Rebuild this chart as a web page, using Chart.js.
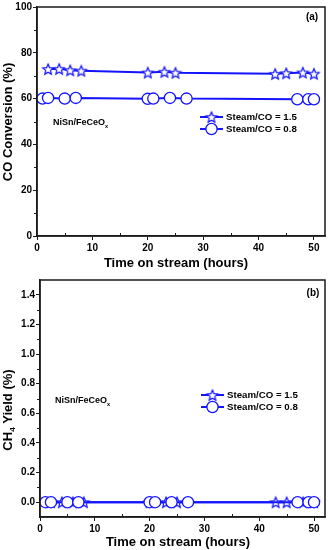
<!DOCTYPE html>
<html>
<head>
<meta charset="utf-8">
<script src="https://cdn.jsdelivr.net/npm/chart.js@4.4.1/dist/chart.umd.min.js"></script>
<style>
html, body { margin: 0; padding: 0; background: #fff; }
#wrap { position: relative; width: 328px; height: 550px; }
canvas { position: absolute; left: 0; }
</style>
</head>
<body>
<div id="wrap">
  <canvas id="chartA" width="328" height="272" style="top:0"></canvas>
  <canvas id="chartB" width="328" height="278" style="top:272px"></canvas>
</div>
<script>
// hours on stream for each series
const starHours = [2, 4, 6, 8, 20, 23, 25, 43, 45, 48, 50];
const circleHours = [1, 2, 5, 7, 20, 21, 24, 27, 47, 49, 50];

// CO conversion (%)
const coConvHigh = [72.9, 73.0, 72.4, 72.2, 71.4, 71.7, 71.3, 70.8, 71.1, 71.4, 70.9];
const coConvLow = [60.0, 60.3, 60.0, 60.3, 59.9, 60.0, 60.3, 60.0, 59.7, 59.7, 59.7];

// CH4 yield (%)
const ch4High = [0, 0, 0, 0, 0, 0, 0, 0, 0, 0, 0];
const ch4Low = [0, 0, 0, 0, 0, 0, 0, 0, 0, 0, 0];

const seriesLabels = ["Steam/CO = 1.5", "Steam/CO = 0.8"];

// tick labels
const xTicks = [0, 10, 20, 30, 40, 50];
const xMinor = [5, 15, 25, 35, 45];
const yTicksA = [0, 20, 40, 60, 80, 100];
const yMinorA = [10, 30, 50, 70, 90];
const yTicksB = [0, 0.2, 0.4, 0.6, 0.8, 1.0, 1.2, 1.4];
const yMinorB = [0.1, 0.3, 0.5, 0.7, 0.9, 1.1, 1.3];

const BLUE = "#1414ff";
const INK = "#1a1a1a";
const FONT = '"Liberation Sans", Arial, sans-serif';

// five point star marker, white inside
function makeStar(r) {
    const s = Math.ceil(r * 2 + 4);
    const c = document.createElement("canvas");
    c.width = s;
    c.height = s;
    const g = c.getContext("2d");
    const cx = s / 2, cy = s / 2 + 0.6;
    g.beginPath();
    for (let i = 0; i < 10; i++) {
        const rad = i % 2 ? r * 0.45 : r;
        const a = -Math.PI / 2 + i * Math.PI / 5;
        g.lineTo(cx + rad * Math.cos(a), cy + rad * Math.sin(a));
    }
    g.closePath();
    g.fillStyle = "#fff";
    g.fill();
    g.strokeStyle = BLUE;
    g.lineWidth = 1.2;
    g.stroke();
    return c;
}
const starImg = makeStar(5.6);

function pts(xs, ys) {
    return xs.map((x, i) => ({ x: x, y: ys[i] }));
}

// text with an optional subscript part: parts = [[text, isSub], ...]
function partsWidth(ctx, parts, size) {
    let w = 0;
    parts.forEach(p => {
        ctx.font = "bold " + (p[1] ? size * 0.62 : size) + "px " + FONT;
        w += ctx.measureText(p[0]).width;
    });
    return w;
}
function drawParts(ctx, parts, x, y, size) {
    ctx.textAlign = "left";
    ctx.textBaseline = "middle";
    parts.forEach(p => {
        ctx.font = "bold " + (p[1] ? size * 0.62 : size) + "px " + FONT;
        ctx.fillText(p[0], x, p[1] ? y + size * 0.35 : y);
        x += ctx.measureText(p[0]).width;
    });
}

function decor(cfg) {
    return {
        id: "decor",
        afterDraw(chart) {
            const ctx = chart.ctx;
            const a = chart.chartArea;
            const sx = chart.scales.x, sy = chart.scales.y;
            ctx.save();

            // box round the plot
            ctx.strokeStyle = INK;
            ctx.lineWidth = 1.5;
            ctx.strokeRect(a.left, a.top, a.right - a.left, a.bottom - a.top);

            // minor ticks
            ctx.lineWidth = 1;
            ctx.beginPath();
            xMinor.forEach(v => {
                const x = Math.round(sx.getPixelForValue(v)) + 0.5;
                ctx.moveTo(x, a.bottom);
                ctx.lineTo(x, a.bottom - 3);
            });
            cfg.yMinor.forEach(v => {
                const y = Math.round(sy.getPixelForValue(v)) + 0.5;
                ctx.moveTo(a.left - 3, y);
                ctx.lineTo(a.left, y);
            });
            ctx.stroke();

            ctx.fillStyle = "#000";

            // x title
            ctx.font = "bold 13px " + FONT;
            ctx.textAlign = "center";
            ctx.textBaseline = "middle";
            ctx.fillText("Time on stream (hours)", cfg.xTitle[0], cfg.xTitle[1]);

            // y title (rotated)
            ctx.save();
            ctx.translate(cfg.yTitle[0], cfg.yTitle[1]);
            ctx.rotate(-Math.PI / 2);
            const w = partsWidth(ctx, cfg.yTitleParts, 13);
            drawParts(ctx, cfg.yTitleParts, -w / 2, 0, 13);
            ctx.restore();

            // panel tag
            ctx.font = "bold 10px " + FONT;
            ctx.textAlign = "center";
            ctx.fillText(cfg.tag, cfg.tagPos[0], cfg.tagPos[1]);

            // catalyst note
            drawParts(ctx, [["NiSn/FeCeO", false], ["x", true]], cfg.note[0], cfg.note[1], 9);

            // legend
            const lx = cfg.legend[0], ly = cfg.legend[1];
            [0, 1].forEach(i => {
                const y = ly + i * 12;
                ctx.strokeStyle = BLUE;
                ctx.lineWidth = 2;
                ctx.beginPath();
                ctx.moveTo(lx, y);
                ctx.lineTo(lx + 23, y);
                ctx.stroke();
                const mx = lx + 11.5;
                if (i === 0) {
                    ctx.drawImage(starImg, mx - starImg.width / 2, y - starImg.height / 2);
                } else {
                    ctx.beginPath();
                    ctx.arc(mx, y, 5.6, 0, Math.PI * 2);
                    ctx.fillStyle = "#fff";
                    ctx.fill();
                    ctx.lineWidth = 1.3;
                    ctx.stroke();
                }
                ctx.fillStyle = "#000";
                ctx.font = "bold 9.7px " + FONT;
                ctx.textAlign = "left";
                ctx.textBaseline = "middle";
                ctx.fillText(seriesLabels[i], lx + 26, y + 0.5);
            });

            ctx.restore();
        }
    };
}

function makeChart(id, highVals, lowVals, opt) {
    return new Chart(document.getElementById(id), {
        type: "scatter",
        data: {
            datasets: [{
                label: seriesLabels[0],
                data: pts(starHours, highVals),
                showLine: true,
                borderColor: BLUE,
                borderWidth: 2,
                pointStyle: starImg,
                order: 1
            }, {
                label: seriesLabels[1],
                data: pts(circleHours, lowVals),
                showLine: true,
                borderColor: BLUE,
                borderWidth: 2,
                pointStyle: "circle",
                pointRadius: 5.6,
                pointBackgroundColor: "#fff",
                pointBorderColor: BLUE,
                pointBorderWidth: 1.3,
                order: 0
            }]
        },
        options: {
            responsive: false,
            animation: false,
            devicePixelRatio: 1,
            layout: { autoPadding: false, padding: { top: opt.top, right: 3, left: 0, bottom: 0 } },
            plugins: { legend: { display: false }, tooltip: { enabled: false } },
            scales: {
                x: {
                    type: "linear",
                    min: 0,
                    max: 52,
                    afterBuildTicks: s => { s.ticks = xTicks.map(v => ({ value: v })); },
                    afterFit: s => { s.height = opt.xHeight; },
                    ticks: {
                        color: "#000",
                        padding: 2,
                        maxRotation: 0,
                        font: { family: FONT, weight: "bold", size: 10 }
                    },
                    grid: { drawOnChartArea: false, tickLength: 4, color: INK, lineWidth: 1 },
                    border: { color: INK, width: 1.5 }
                },
                y: {
                    type: "linear",
                    min: opt.yMin,
                    max: opt.yMax,
                    afterBuildTicks: s => { s.ticks = opt.yTicks.map(v => ({ value: v })); },
                    afterFit: s => { s.width = opt.yWidth; },
                    ticks: {
                        color: "#000",
                        padding: 1,
                        font: { family: FONT, weight: "bold", size: 10 },
                        callback: opt.fmt
                    },
                    grid: { drawOnChartArea: false, tickLength: 4, color: INK, lineWidth: 1 },
                    border: { color: INK, width: 1.5 }
                }
            }
        },
        plugins: [decor(opt.decor)]
    });
}

makeChart("chartA", coConvHigh, coConvLow, {
    top: 5, xHeight: 36, yWidth: 37,
    yMin: 0, yMax: 100, yTicks: yTicksA,
    fmt: v => String(v),
    decor: {
        yMinor: yMinorA,
        xTitle: [176, 263],
        yTitle: [8, 122],
        yTitleParts: [["CO Conversion (%)", false]],
        tag: "(a)", tagPos: [312, 17],
        note: [53, 123],
        legend: [200, 117]
    }
});

makeChart("chartB", ch4High, ch4Low, {
    top: 8, xHeight: 33, yWidth: 40,
    yMin: -0.1, yMax: 1.5, yTicks: yTicksB,
    fmt: v => Number(v).toFixed(1),
    decor: {
        yMinor: yMinorB,
        xTitle: [178, 270],
        yTitle: [8, 138],
        yTitleParts: [["CH", false], ["4", true], [" Yield (%)", false]],
        tag: "(b)", tagPos: [313, 21],
        note: [55, 129],
        legend: [201, 123]
    }
});
</script>
</body>
</html>
